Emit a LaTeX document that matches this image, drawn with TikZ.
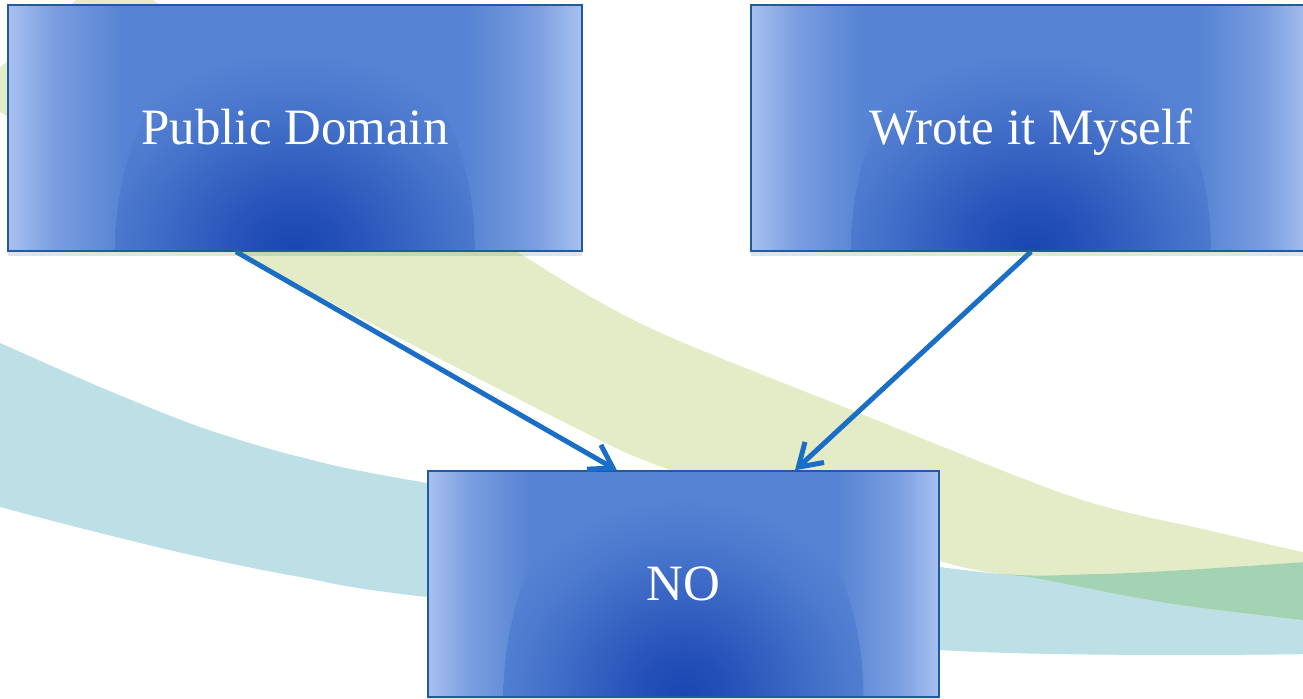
\documentclass[tikz,border=0pt]{standalone}
\usepackage{fontspec}
\setmainfont{Liberation Serif}
\usetikzlibrary{arrows.meta,shadows}

\definecolor{bandgreen}{HTML}{E3EBC7}
\definecolor{bandteal}{HTML}{BCE0E5}
\definecolor{bandmix}{HTML}{A4D3B4}
\definecolor{boxline}{HTML}{1F5C9E}
\definecolor{boxedge}{HTML}{A8C0F0}
\definecolor{boxmid}{HTML}{5683D3}
\definecolor{boxdark}{HTML}{1A46B3}
\definecolor{linkblue}{HTML}{1A6EC6}

\pgfdeclarehorizontalshading{boxglow}{100bp}{color(0bp)=(boxedge); color(25bp)=(boxedge); color(29bp)=(boxedge!45!boxmid); color(35bp)=(boxmid); color(65bp)=(boxmid); color(71bp)=(boxedge!45!boxmid); color(75bp)=(boxedge); color(100bp)=(boxedge)}
\pgfdeclareradialshading{bottomglow}{\pgfpoint{0bp}{0bp}}{color(0bp)=(boxdark); color(4bp)=(boxdark!85!boxmid); color(10bp)=(boxdark!50!boxmid); color(16bp)=(boxdark!15!boxmid); color(20bp)=(boxmid); color(50bp)=(boxmid)}

\def\greenswoosh{plot[smooth] coordinates {(110,-30) (360,145) (527,258) (650,328) (844,407) (1073,497) (1207,530) (1320,556)}
  -- plot[smooth] coordinates {(1320,622) (1173,604) (1040,579) (940,561) (670,470) (560,420) (236,252) (0,112) (-30,94)} -- cycle}
\def\tealswoosh{plot[smooth] coordinates {(-20,335) (0,343) (100,387) (200,427) (300,457) (427,483) (940,567) (1100,574) (1320,561)}
  -- plot[smooth] coordinates {(1320,654) (940,650) (427,597) (300,577) (200,557) (100,533) (0,507) (-20,500)} -- cycle}

\begin{document}
\begin{tikzpicture}[x=0.02cm, y=-0.02cm,
    box/.style={draw=boxline, line width=0.8pt, shading=boxglow, text=white,
      font=\fontsize{29}{35}\selectfont, inner sep=0pt, text height=19.2pt, text depth=0pt,
      drop shadow={shadow xshift=0pt, shadow yshift=-0.1cm, opacity=0.22},
      path picture={\shade[shading=bottomglow] (path picture bounding box.south) ellipse [x radius=3.6cm, y radius=5cm];}},
    link/.style={draw=linkblue, line width=0.1cm, -{Straight Barb[length=0.44cm, width=0.56cm]}}]

  \useasboundingbox (0,0) rectangle (1303,699);
  \clip (0,0) rectangle (1303,699);

  % background swooshes
  \fill[bandteal] \tealswoosh;
  \fill[bandgreen] \greenswoosh;
  \begin{scope}
    \clip \greenswoosh;
    \fill[bandmix] \tealswoosh;
  \end{scope}

  \node[box, minimum width=11.48cm, minimum height=4.92cm] (pd) at (295,128) {Public Domain};
  \node[box, minimum width=11.2cm, minimum height=4.92cm] (wm) at (1031,128) {Wrote it Myself};
  \node[box, minimum width=10.22cm, minimum height=4.52cm] (no) at (683.5,584) {NO};

  \draw[link] ([xshift=-1.18cm]pd.south) -- ([xshift=-1.33cm]no.north);
  \draw[link] (wm.south) -- ([xshift=2.23cm]no.north);
\end{tikzpicture}
\end{document}
